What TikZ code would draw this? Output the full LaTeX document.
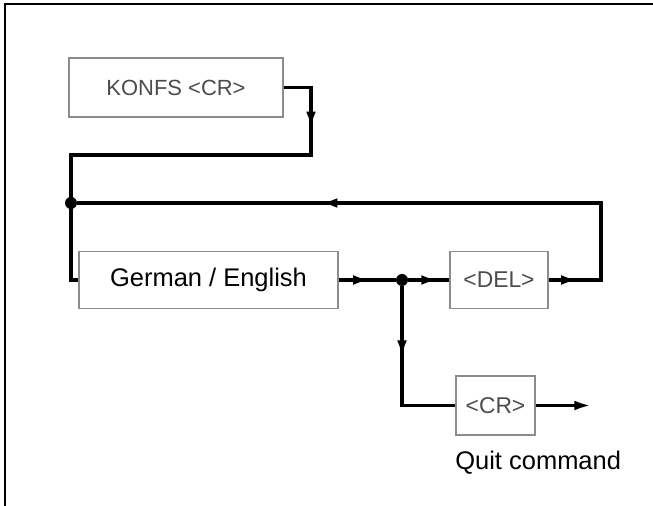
\documentclass[tikz,border=0pt]{standalone}
\usepackage{fontspec}
\setmainfont{Liberation Sans}
\usetikzlibrary{arrows.meta, positioning, decorations.markings}

\begin{document}
\begin{tikzpicture}[x=0.02cm, y=-0.02cm,
        box/.style={rectangle, draw=black!45, line width=0.8pt, align=center, inner sep=0pt},
        keytext/.style={font=\fontsize{13}{15}\selectfont, text=black!70},
        bigtext/.style={font=\fontsize{14.5}{17}\selectfont},
        flow/.style={line width=2.2pt},
        tip at/.style={postaction={decorate, decoration={markings,
            mark=at position #1 with {\arrow{Latex[length=10pt,width=5.5pt]}}}}},
        dot/.style={circle, fill, inner sep=0pt, minimum size=0.24cm}
    ]
        \useasboundingbox (0,0) rectangle (653,506);

        % Frame
        \draw[line width=1.6pt] (5,506) -- (5,4) -- (653,4);

        % Boxes
        \node[box, keytext, font=\fontsize{12.5}{15}\selectfont, minimum width=4.28cm, minimum height=1.18cm] (konfs) at (176,87.5) {KONFS <CR>};
        \node[box, bigtext, minimum width=5.18cm, minimum height=1.14cm] (german) at (208.5,280) {German / English};
        \node[box, keytext, minimum width=1.96cm, minimum height=1.14cm] (del) at (499,280) {<DEL>};
        \node[box, keytext, minimum width=1.58cm, minimum height=1.18cm] (cr) at (495.5,405.5) {<CR>};
        \node[bigtext, anchor=base west, inner sep=0pt] (quit) at (455,470) {Quit command};

        % Junctions
        \node[dot] (j1) at (71,203) {};
        \node[dot] (j2) at (402,280) {};
        \coordinate (kr) at (311,155);
        \coordinate (kl) at (71,155);
        \coordinate (lt) at (601,203);
        \coordinate (qend) at (592,405.5);

        % Connectors
        \draw[flow, tip at=1.38cm] (konfs.east) -| (kr) -- (kl) |- (german.west);
        \draw[flow, tip at=0.6cm, tip at=8.21cm] (del.east) -| (lt) -- (j1);
        \draw[flow, tip at=0.64cm] (german) -- (j2);
        \draw[flow, tip at=0.61cm] (j2) -- (del);
        \draw[flow, tip at=1.43cm] (j2) |- (cr);
        \draw[flow, -{Latex[length=10pt,width=5.5pt]}] (cr) -- (qend);
    \end{tikzpicture}
\end{document}
